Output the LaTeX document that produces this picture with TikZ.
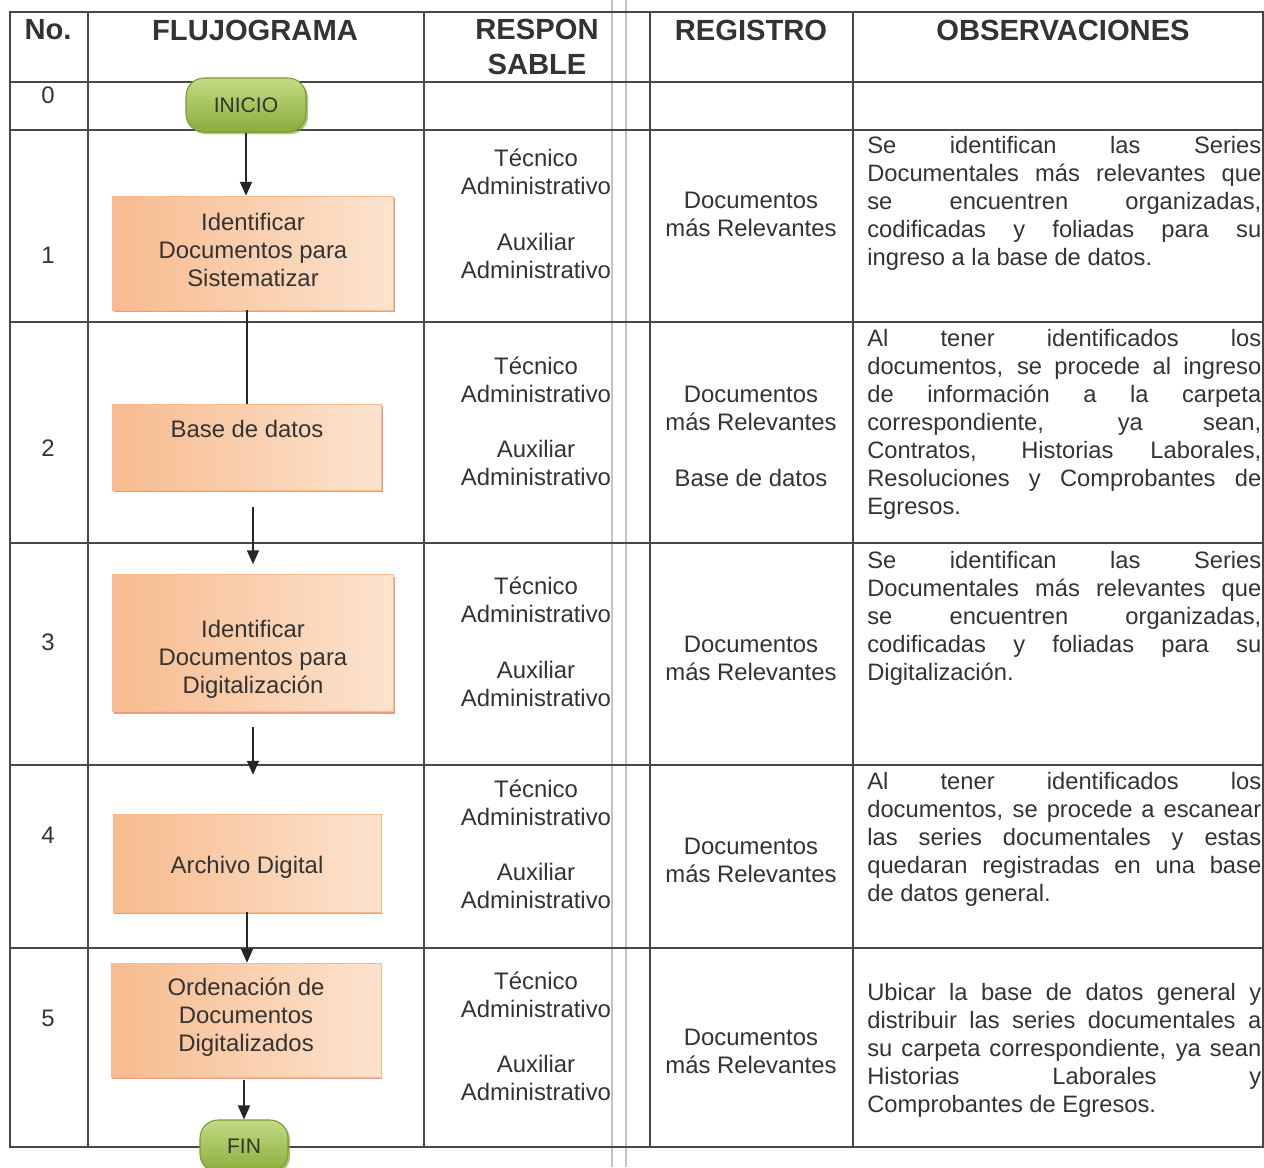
\documentclass[tikz,border=0pt]{standalone}
\usepackage{fontspec}
\setmainfont{Liberation Sans}
\usetikzlibrary{arrows.meta, shadows}
\definecolor{ink}{HTML}{333333}
\definecolor{rule}{HTML}{474747}
\definecolor{fold}{HTML}{C4C4C4}
\definecolor{boxdark}{HTML}{F7BB8E}
\definecolor{boxlight}{HTML}{FCE3CF}
\definecolor{termtop}{HTML}{C3DB84}
\definecolor{termbot}{HTML}{8AAD3A}
\definecolor{termedge}{HTML}{7A9A34}
\newcommand{\obsbreaks}{\tolerance=9999\relax\hyphenpenalty=10000\relax}
\tikzset{
    head/.style = {
        font=\fontsize{16.6}{19.5}\selectfont\bfseries,
        text=ink, align=center, inner sep=0pt
    },
    cell/.style = {
        font=\fontsize{13.6}{15.9}\selectfont,
        text=ink, align=center, inner sep=0pt
    },
    obs/.style = {
        font=\fontsize{13.5}{15.9}\selectfont,
        text=ink, align=justify, text width=7.88cm,
        inner sep=0pt, anchor=north west
    },
    terminal/.style = {
        rectangle, rounded corners=0.36cm, draw=termedge, line width=0.6pt,
        top color=termtop, bottom color=termbot,
        minimum width=2.4cm, minimum height=1.08cm,
        font=\fontsize{12}{14}\selectfont, text=ink,
        drop shadow={shadow xshift=1.2pt, shadow yshift=-1.2pt, fill=termedge, opacity=0.6}
    },
    process/.style = {
        rectangle, draw=boxdark, line width=0.3pt,
        left color=boxdark, right color=boxlight,
        drop shadow={shadow xshift=0.8pt, shadow yshift=-1.2pt, fill=red!45!brown, opacity=0.55}
    },
    arrow/.style = {
        -{Triangle[length=0.28cm, width=0.24cm]}, line width=1pt, draw=black!85
    }
}

\begin{document}
\begin{tikzpicture}[x=0.02cm, y=-0.02cm]

\useasboundingbox (0,0) rectangle (1264,1167);

\foreach \x in {612,626}
    \draw[fold, line width=0.8pt] (\x,0) -- (\x,1167);

\draw[rule, line width=0.8pt] (10,12) rectangle (1263,1147);
\foreach \y in {82,130,322,543,765,948}
    \draw[rule, line width=0.8pt] (10,\y) -- (1263,\y);
\foreach \x in {88,424,650,853}
    \draw[rule, line width=0.8pt] (\x,12) -- (\x,1147);

\node (hno) [head] at (48,30) {No.};
\node (hflujo) [head] at (255,30) {FLUJOGRAMA};
\node (hresp) [head] at (537,47) {RESPON\\SABLE};
\node (hreg) [head] at (751,30) {REGISTRO};
\node (hobs) [head] at (1063,30) {OBSERVACIONES};

\node (n0) [cell] at (48,95) {0};
\node (n1) [cell] at (48,255) {1};
\node (n2) [cell] at (48,448) {2};
\node (n3) [cell] at (48,642) {3};
\node (n4) [cell] at (48,835) {4};
\node (n5) [cell] at (48,1018) {5};

\node (tec1) [cell] at (536,172) {Técnico\\Administrativo};
\node (aux1) [cell] at (536,256) {Auxiliar\\Administrativo};
\node (tec2) [cell] at (536,380) {Técnico\\Administrativo};
\node (aux2) [cell] at (536,463) {Auxiliar\\Administrativo};
\node (tec3) [cell] at (536,600) {Técnico\\Administrativo};
\node (aux3) [cell] at (536,684) {Auxiliar\\Administrativo};
\node (tec4) [cell] at (536,803) {Técnico\\Administrativo};
\node (aux4) [cell] at (536,886) {Auxiliar\\Administrativo};
\node (tec5) [cell] at (536,995) {Técnico\\Administrativo};
\node (aux5) [cell] at (536,1078) {Auxiliar\\Administrativo};

\node (reg1) [cell] at (751,214) {Documentos\\más Relevantes};
\node (reg2) [cell] at (751,408) {Documentos\\más Relevantes};
\node (reg2b) [cell] at (751,478) {Base de datos};
\node (reg3) [cell] at (751,658) {Documentos\\más Relevantes};
\node (reg4) [cell] at (751,860) {Documentos\\más Relevantes};
\node (reg5) [cell] at (751,1051) {Documentos\\más Relevantes};

\node (obs1) [obs] at (867,136) {\obsbreaks Se identifican las Series\linebreak Documentales más relevantes que\linebreak se encuentren organizadas,\linebreak codificadas y foliadas para su\linebreak ingreso a la base de datos.};
\node (obs2) [obs] at (867,329) {\obsbreaks Al tener identificados los\linebreak documentos, se procede al ingreso\linebreak de información a la carpeta\linebreak correspondiente, ya sean,\linebreak Contratos, Historias Laborales,\linebreak Resoluciones y Comprobantes de\linebreak Egresos.};
\node (obs3) [obs] at (867,551) {\obsbreaks Se identifican las Series\linebreak Documentales más relevantes que\linebreak se encuentren organizadas,\linebreak codificadas y foliadas para su\linebreak Digitalización.};
\node (obs4) [obs] at (867,772) {\obsbreaks Al tener identificados los\linebreak documentos, se procede a escanear\linebreak las series documentales y estas\linebreak quedaran registradas en una base\linebreak de datos general.};
\node (obs5) [obs] at (867,983) {\obsbreaks Ubicar la base de datos general y\linebreak distribuir las series documentales a\linebreak su carpeta correspondiente, ya sean\linebreak Historias Laborales y\linebreak Comprobantes de Egresos.};

\node (inicio) [terminal] at (246,105) {INICIO};
\node (ident) [process, minimum width=5.62cm, minimum height=2.28cm] at (253,253) {};
\node (identtxt) [cell] at (253,250) {Identificar\\Documentos para\\Sistematizar};
\node (base) [process, minimum width=5.38cm, minimum height=1.72cm] at (247,447) {};
\node (basetxt) [cell] at (247,429) {Base de datos};
\node (digit) [process, minimum width=5.62cm, minimum height=2.74cm] at (253,643) {};
\node (digittxt) [cell] at (253,659) {Identificar\\Documentos para\\Digitalización};
\node (archivo) [process, minimum width=5.36cm, minimum height=1.96cm] at (247,863) {};
\node (archivotxt) [cell] at (247,867) {Archivo Digital};
\node (ordena) [process, minimum width=5.4cm, minimum height=2.28cm] at (246,1020) {};
\node (ordenatxt) [cell] at (246,1017) {Ordenación de\\Documentos\\Digitalizados};
\node (fin) [terminal, minimum width=1.76cm, minimum height=1.04cm] at (244,1146) {FIN};

\draw [arrow] (inicio.south) -- (inicio.south |- ident.north);
\draw [line width=1pt, draw=black!85] (ident.south -| base) -- (base.north);
\draw [arrow, shorten <=0.34cm, shorten >=0.2cm] (base.south -| digit) -- (digit.north);
\draw [arrow, shorten <=0.3cm, shorten >=0.78cm] (digit.south) -- (digit.south |- archivo.north);
\draw [arrow] (archivo.south) -- (archivo.south |- ordena.north);
\draw [arrow, shorten <=0.06cm] (ordena.south -| fin) -- (fin.north);

\end{tikzpicture}
\end{document}
